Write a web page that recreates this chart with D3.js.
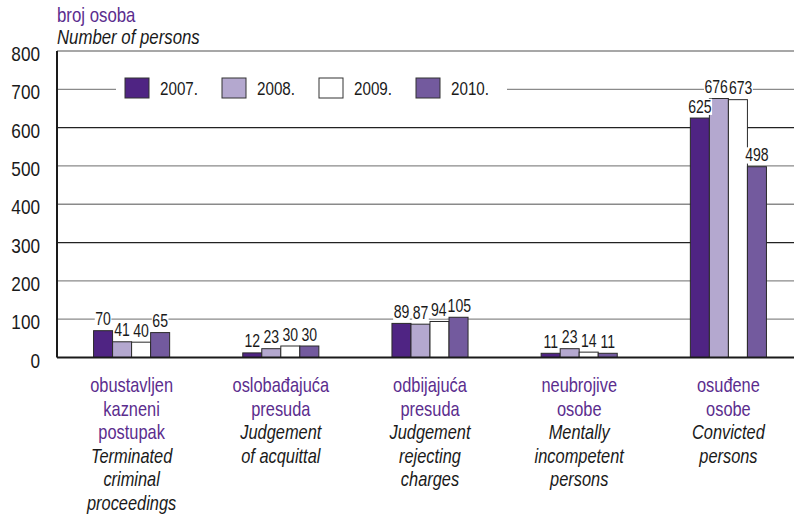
<!DOCTYPE html>
<html><head><meta charset="utf-8">
<script src="https://cdn.jsdelivr.net/npm/d3@7"></script>
<style>
html,body{margin:0;padding:0;background:#fff;}
svg text{font-family:'Liberation Sans',Arial,sans-serif;}
</style></head>
<body><svg id="c" width="794" height="515"></svg>
<script>
const categoriesHr = [["obustavljen","kazneni","postupak"],["oslobađajuća","presuda"],["odbijajuća","presuda"],["neubrojive","osobe"],["osuđene","osobe"]];
const categoriesEn = [["Terminated","criminal","proceedings"],["Judgement","of acquittal"],["Judgement","rejecting","charges"],["Mentally","incompetent","persons"],["Convicted","persons"]];
const years = ["2007.","2008.","2009.","2010."];
const v2007 = [70,12,89,11,625];
const v2008 = [41,23,87,23,676];
const v2009 = [40,30,94,14,673];
const v2010 = [65,30,105,11,498];
const yTicks = [0,100,200,300,400,500,600,700,800];
const colors = ["#4f2483","#b4a8cf","#ffffff","#735a9e"];

(function(){
const SX = 0.82;
const series = [v2007,v2008,v2009,v2010];
const svg = d3.select("#c");
const pL = 57, pR = 803, pT = 51, pB = 357.5;
const idx = d3.range(categoriesHr.length);
const x0 = d3.scaleBand().domain(idx).range([pL,pR]).paddingInner(0.49).paddingOuter(0.245);
const x1 = d3.scaleBand().domain(years).range([0,x0.bandwidth()]);
const y = d3.scaleLinear().domain([0,800]).range([pB,pT]);

function txt(parent, x, yy, s, size, opts){
  opts = opts||{};
  const g = parent.append("g").attr("transform",`translate(${x},${yy}) scale(${opts.sx||SX},1)`);
  const t = g.append("text").attr("x",0).attr("y",0).attr("font-size",size)
    .attr("text-anchor",opts.anchor||"start").attr("fill",opts.fill||"#1a1a1a")
    .attr("font-style",opts.italic?"italic":"normal").text(s);
  return {g,t};
}

const grid = svg.append("g");
yTicks.filter(t=>t>0).forEach(t=>{
  grid.append("line").attr("x1",pL).attr("x2",794).attr("y1",y(t)).attr("y2",y(t))
    .attr("stroke",(t===300||t===600)?"#222":"#8a8a8a").attr("stroke-width",1.3);
});

const yAxis = d3.axisLeft(y).tickValues(yTicks).tickSize(0).tickPadding(17);
const ya = svg.append("g").attr("transform",`translate(${pL},0)`).call(yAxis);
ya.select(".domain").remove();
ya.selectAll("text").attr("font-size",20).attr("fill","#1a1a1a").attr("dy","0.48em")
  .attr("x",-17/0.86).attr("transform","scale(0.86,1)")
  .style("font-family","'Liberation Sans',Arial,sans-serif");

const leg = svg.append("g");
leg.append("rect").attr("x",116).attr("y",72).attr("width",391).attr("height",32).attr("fill","#fff");
years.forEach((yr,i)=>{
  const lx = 125 + i*97;
  leg.append("rect").attr("x",lx).attr("y",78).attr("width",24).attr("height",20)
    .attr("fill",colors[i]).attr("stroke","#333").attr("stroke-width",1);
  txt(leg, lx+35, 95, yr, 19, {sx:0.8});
});

const groups = svg.append("g").selectAll("g").data(idx).join("g")
  .attr("transform",d=>`translate(${x0(d)},0)`);
groups.selectAll("rect").data(d=>years.map((yr,i)=>({yr,i,v:series[i][d]}))).join("rect")
  .attr("x",d=>x1(d.yr)).attr("width",x1.bandwidth())
  .attr("y",d=>y(d.v)).attr("height",d=>pB-y(d.v))
  .attr("fill",d=>colors[d.i]).attr("stroke","#2a2a2a").attr("stroke-width",1);

const bgLayer = svg.append("g");
const lblLayer = svg.append("g");
const LSX = 0.76, LFS = 18.5;
idx.forEach(d=>{
  const items = years.map((yr,i)=>{
    const v = series[i][d];
    const cx = x0(d)+x1(yr)+x1.bandwidth()/2;
    const yy = y(v)-5.5;
    const o = txt(lblLayer, cx, yy, v, LFS, {anchor:"middle", sx:LSX});
    const bb = o.t.node().getBBox();
    return {o, cx, yy, w:bb.width*LSX, bb};
  });
  for(let k=0;k<items.length-1;k++){
    const a=items[k], b=items[k+1];
    if(Math.abs(a.yy-b.yy) < 14){
      const ov = (a.cx+a.w/2) - (b.cx-b.w/2) + 1;
      if(ov>0){ a.cx -= ov/2; b.cx += ov/2; }
    }
  }
  items.forEach(it=>{
    it.o.g.attr("transform",`translate(${it.cx},${it.yy}) scale(${LSX},1)`);
    bgLayer.append("rect").attr("x",it.cx-it.w/2-0.5).attr("y",it.yy+it.bb.y+3)
      .attr("width",it.w+1).attr("height",it.bb.height-4).attr("fill","#fff");
  });
});

svg.append("line").attr("x1",pL).attr("x2",pL).attr("y1",pT).attr("y2",pB).attr("stroke","#1a1a1a").attr("stroke-width",2);
svg.append("line").attr("x1",pL).attr("x2",794).attr("y1",pB).attr("y2",pB).attr("stroke","#1a1a1a").attr("stroke-width",2);

idx.forEach(i=>{
  const cx = x0(i)+x0.bandwidth()/2;
  const lines = categoriesHr[i].map(s=>({s,hr:true})).concat(categoriesEn[i].map(s=>({s,hr:false})));
  lines.forEach((l,j)=>{
    txt(svg, cx, 392+j*23.6, l.s, 20, {anchor:"middle", fill:l.hr?"#5b2d8e":"#1a1a1a", italic:!l.hr});
  });
});

txt(svg, 57, 22, "broj osoba", 20, {fill:"#5b2d8e", sx:0.84});
txt(svg, 57, 44, "Number of persons", 20, {italic:true, sx:0.84});
})();
</script></body></html>
